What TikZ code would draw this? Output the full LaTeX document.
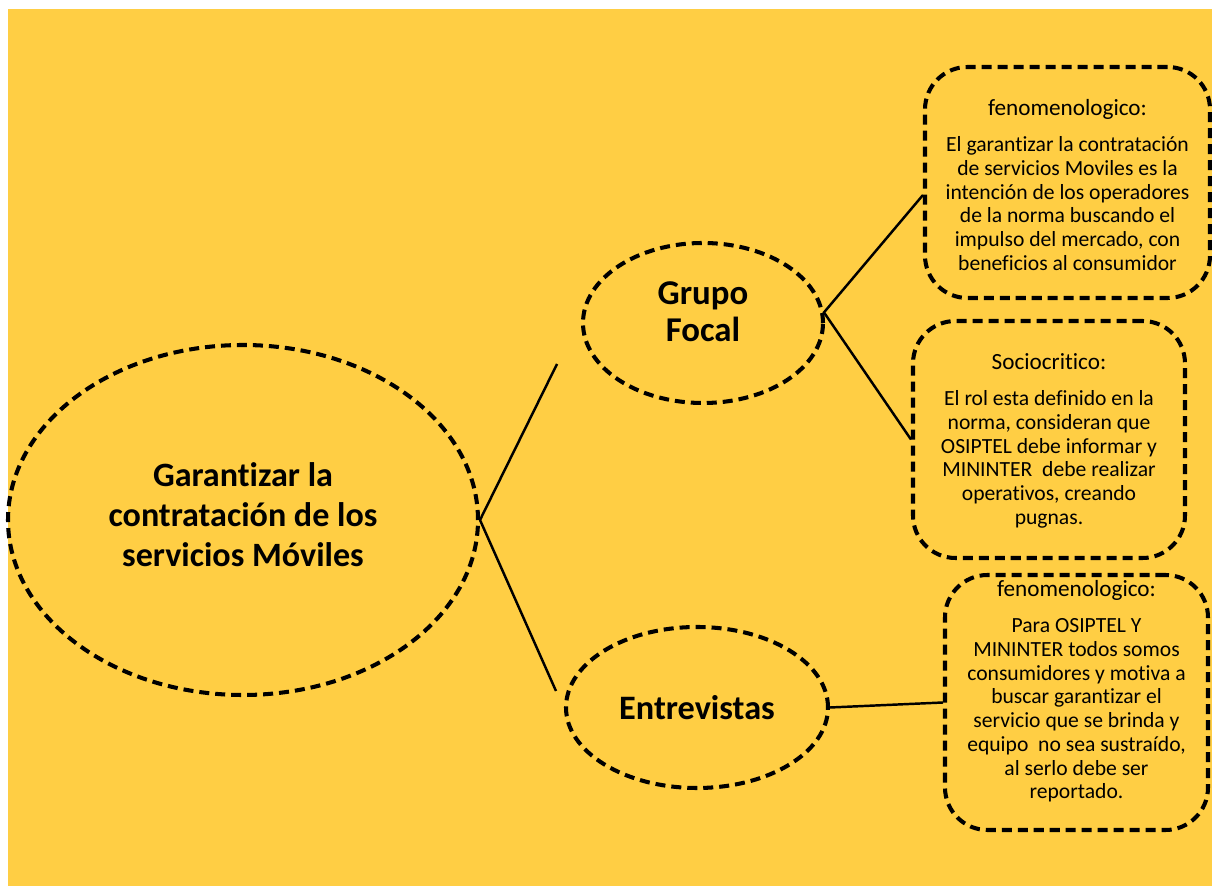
\documentclass[tikz,border=0pt]{standalone}
\usepackage{fontspec}
\setmainfont{Carlito}[Ligatures=NoCommon]
\usetikzlibrary{shapes.geometric}
\definecolor{fondo}{RGB}{255,206,68}
\newcommand{\titulocaja}[1]{{\fontsize{13.2}{13.5}\selectfont #1}}
\tikzset{
  discontinua/.style={draw=black, line width=2.3pt, dash pattern=on 5.7pt off 3.4pt},
  burbuja/.style={discontinua, ellipse, inner sep=0pt, align=center},
  caja/.style={discontinua, rounded corners=0.85cm},
  textocaja/.style={align=center, font=\fontsize{12.3}{13.5}\selectfont},
  rama/.style={line width=1.4pt}
}

\begin{document}
\begin{tikzpicture}
	\useasboundingbox (0,0) rectangle (24.24,17.72);
	\fill[fondo] (0.16,0) rectangle (24.24,17.54);

	\node[burbuja, minimum width=9.4cm, minimum height=7cm] (tema) at (4.86,7.32) {};
	\node[align=center, font=\bfseries\fontsize{19.4}{22.8}\selectfont] (tematxt) at ([yshift=0.1cm]tema.center) {Garantizar la\\contratación de los\\servicios Móviles};
	\node[burbuja, minimum width=4.8cm, minimum height=3.2cm] (grupo) at (14.06,11.26) {};
	\node[align=center, font=\bfseries\fontsize{19.8}{21}\selectfont] (grupotxt) at ([yshift=0.22cm]grupo.center) {Grupo\\Focal};
	\node[burbuja, minimum width=5.24cm, minimum height=3.22cm, font=\bfseries\fontsize{19.5}{21}\selectfont] (entrev) at (13.94,3.57) {Entrevistas};

	\coordinate (fin1) at (11.14,10.44);
	\coordinate (fin2) at (11.12,3.90);
	\draw[rama] (fin1) -- (tema.east) -- (fin2);

	\node[caja, minimum width=5.7cm, minimum height=4.62cm] (caja1) at (21.35,14.07) {};
	\node[caja, minimum width=5.44cm, minimum height=4.74cm] (caja2) at (20.98,8.93) {};
	\node[caja, minimum width=5.26cm, minimum height=5.1cm] (caja3) at (21.53,3.67) {};

	\node[textocaja] (t1) at ([yshift=-0.05cm]caja1.center) {\titulocaja{fenomenologico:}\\[7pt]El garantizar la contratación\\de servicios Moviles es la\\intención de los operadores\\de la norma buscando el\\impulso del mercado, con\\beneficios al consumidor};
	\node[textocaja] (t2) at ([yshift=-0.03cm]caja2.center) {\titulocaja{Sociocritico:}\\[7pt]El rol esta definido en la\\norma, consideran que\\OSIPTEL debe informar y\\MININTER\ \ debe realizar\\operativos, creando\\pugnas.};
	\node[textocaja] (t3) at ([yshift=0.22cm]caja3.center) {\titulocaja{fenomenologico:}\\[7pt]Para OSIPTEL Y\\MININTER todos somos\\consumidores y motiva a\\buscar garantizar el\\servicio que se brinda y\\equipo\ \ no sea sustraído,\\al serlo debe ser\\reportado.};

	\draw[rama] ([yshift=-0.25cm]caja1.west) -- (grupo.5) -- (caja2.west);
	\draw[rama] (entrev.east) -- (caja3.west);
\end{tikzpicture}
\end{document}
